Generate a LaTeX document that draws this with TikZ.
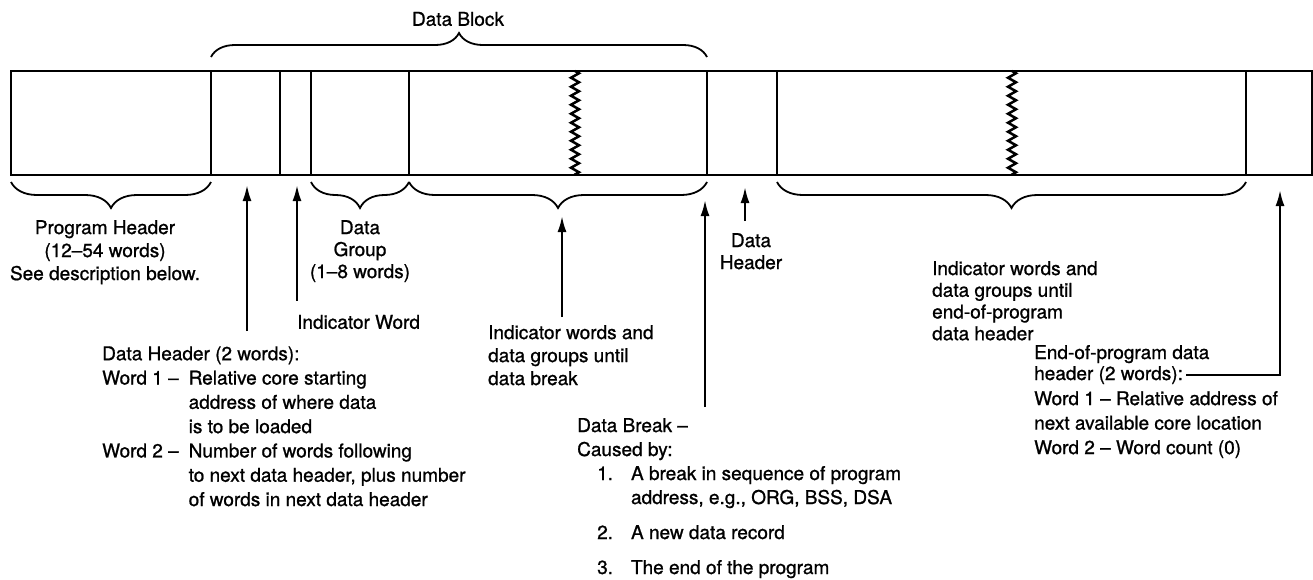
\documentclass[tikz,border=0pt]{standalone}
\usepackage{fontspec}
\setmainfont[FakeBold=1]{TeX Gyre Heros}
\usetikzlibrary{arrows.meta,decorations.pathreplacing,decorations.pathmorphing,positioning}

\begin{document}
\begin{tikzpicture}[x=1pt,y=-1pt,>={Latex[length=16pt,width=9pt]},
    lbl/.style={inner sep=0pt,font=\fontsize{19}{23}\selectfont,align=left},
    bar/.style={line width=2.2pt},
    brc/.style={decorate,decoration={brace,amplitude=#1},line width=1.8pt},
    brc/.default=26pt,
    wiggle/.style={decorate,decoration={zigzag,segment length=9pt,amplitude=4pt},line width=2.5pt},
    arr/.style={->,line width=2.2pt}]
    \useasboundingbox (0,0) rectangle (1313,579);

    % the record on tape
    \draw[bar] (11,71) rectangle (1312,175);
    \foreach \x in {211,280,311,409,707,777,1246}
        \draw[bar] (\x,71) -- (\x,175);
    \draw[wiggle] (575,71) -- (575,175);
    \draw[wiggle] (1012,71) -- (1012,175);

    % braces
    \draw[brc=24pt] (211,57) -- (707,57);
    \draw[brc,decoration={mirror}] (11,182) -- (211,182);
    \draw[brc,decoration={mirror}] (311,182) -- (409,182);
    \draw[brc,decoration={mirror}] (409,182) -- (707,182);
    \draw[brc,decoration={mirror}] (777,182) -- (1246,182);

    % arrow tips at the record
    \coordinate (dhtip) at (247,185);
    \coordinate (iwtip) at (297,185);
    \coordinate (grtip) at (562,216);
    \coordinate (dbtip) at (705,200);
    \coordinate (hdtip) at (745,187);
    \coordinate (eptip) at (1280,190);

    \node[lbl] (blk) at (458,19) {Data Block};
    \node[lbl,align=center,anchor=north] (ph) at (105,220) {Program Header\\(12--54 words)\\See description below.};
    \node[lbl,align=center,anchor=north,font=\fontsize{19}{22}\selectfont] (dg) at (360,220) {Data\\Group\\(1--8 words)};
    \node[lbl,anchor=west] (iw) at (297,322) {Indicator Word};
    \node[lbl,anchor=north west,font=\fontsize{19}{24.3}\selectfont] (dh) at (102,343) {%
        \begin{tabular}{@{}l@{\hspace{10pt}}l@{}}
        \multicolumn{2}{@{}l@{}}{Data Header (2 words):}\\
        Word 1 -- & Relative core starting\\
                  & address of where data\\
                  & is to be loaded\\
        Word 2 -- & Number of words following\\
                  & to next data header, plus number\\
                  & of words in next data header
        \end{tabular}};
    \node[lbl,anchor=north west] (gr) at (488,325) {Indicator words and\\data groups until\\data break};
    \node[lbl,align=center,anchor=north,font=\fontsize{19}{22}\selectfont] (hd) at (751,233) {Data\\Header};
    \node[lbl,anchor=north west,font=\fontsize{19}{24}\selectfont] (db) at (577,415) {%
        \begin{tabular}{@{}l@{\hspace{18pt}}l@{}}
        \multicolumn{2}{@{}l@{}}{Data Break --}\\
        \multicolumn{2}{@{}l@{}}{Caused by:}\\
        \hspace*{20pt}1. & A break in sequence of program\\
                         & address, e.g., ORG, BSS, DSA\\[11pt]
        \hspace*{20pt}2. & A new data record\\[11pt]
        \hspace*{20pt}3. & The end of the program
        \end{tabular}};
    \node[lbl,anchor=north west,font=\fontsize{19}{21.7}\selectfont] (gr2) at (932,261) {Indicator words and\\data groups until\\end-of-program\\data header};
    \node[lbl,anchor=base west] (ep1) at (1034,359) {End-of-program data};
    \node[lbl,anchor=base west] (ep2) at ([yshift=-21pt]ep1.base west) {header (2 words):};
    \node[lbl,anchor=north west,font=\fontsize{19}{24.5}\selectfont] (ep3) at (1034,391) {Word 1 -- Relative address of\\next available core location\\Word 2 -- Word count (0)};

    % pointers
    \draw[arr,shorten <=12pt] (dh.north -| dhtip) -- (dhtip);
    \draw[arr,shorten <=14pt] (iw.north west) -- (iwtip);
    \draw[arr,shorten <=8pt] (gr.north -| grtip) -- (grtip);
    \draw[arr,shorten <=8pt] (db.north -| dbtip) -- (dbtip);
    \draw[arr,shorten <=12pt] (hd.north -| hdtip) -- (hdtip);
    \draw[arr] ([xshift=3pt]ep2.east) -| (eptip);
\end{tikzpicture}
\end{document}
